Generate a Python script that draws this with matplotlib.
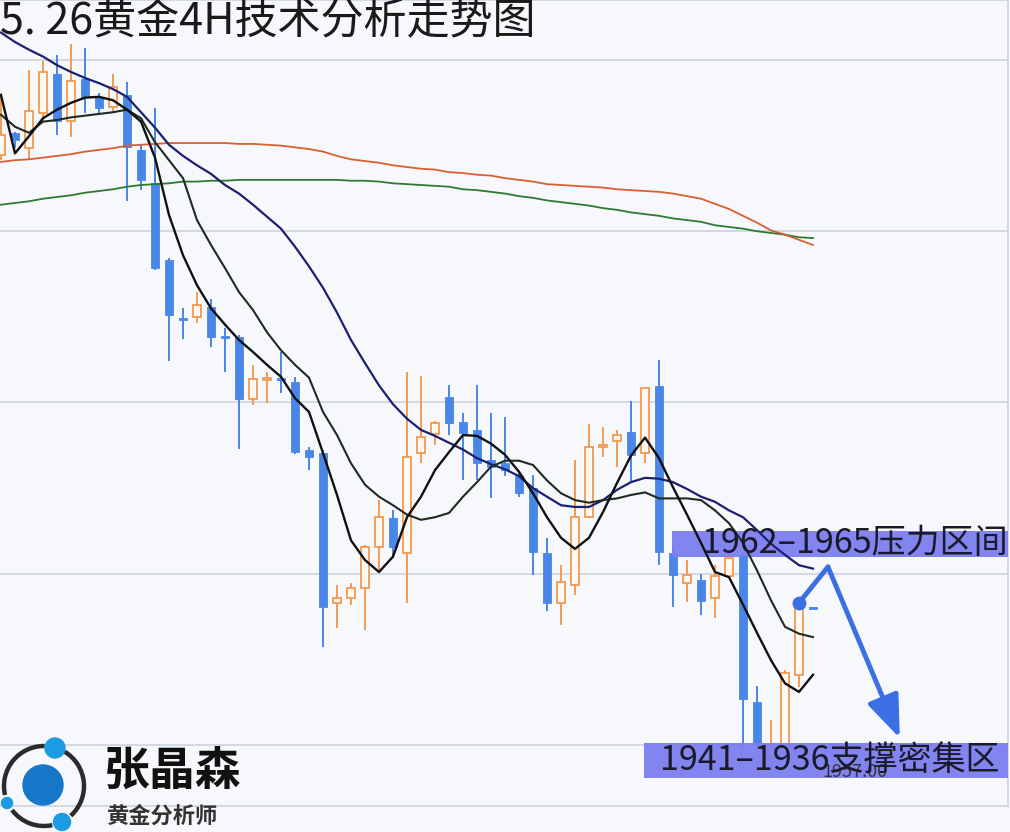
import matplotlib
matplotlib.use('Agg')
import matplotlib.pyplot as plt
from matplotlib.patches import Rectangle, Circle, Arc
import numpy as np

plt.rcParams['font.family'] = ['Noto Sans CJK SC', 'DejaVu Sans']

# ---------------- data ----------------
title = "5. 26黄金4H技术分析走势图"

opens = [2008.9, 2011.5, 2009.7, 2013.8, 2018.4, 2012.9, 2017.8, 2015.7, 2014.5, 2015.9,
         2009.5, 2005.6, 1996.6, 1989.9, 1990.0, 1991.2, 1987.8, 1987.6, 1980.4, 1982.6,
         1982.9, 1982.4, 1974.5, 1974.1, 1956.6, 1957.2, 1958.3, 1963.1, 1966.5, 1962.4,
         1974.1, 1976.3, 1980.6, 1977.7, 1976.8, 1973.3, 1972.9, 1971.4, 1970.0, 1962.4,
         1956.6, 1958.7, 1966.6, 1974.8, 1975.5, 1976.6, 1974.1, 1981.9, 1962.4, 1958.9,
         1959.3, 1957.2, 1959.7, 1962.2, 1945.0, 1938.6, 1939.2, 1948.2, 1956.1]
closes = [2011.2, 2010.7, 2014.0, 2018.6, 2012.9, 2017.5, 2015.7, 2014.4, 2016.8, 2009.8,
          2006.0, 1995.7, 1990.2, 1989.6, 1991.4, 1987.6, 1987.5, 1980.4, 1982.7, 1982.9,
          1982.6, 1974.2, 1973.6, 1956.1, 1957.2, 1958.3, 1963.1, 1966.6, 1963.1, 1973.6,
          1976.0, 1977.6, 1977.6, 1976.4, 1972.9, 1972.5, 1972.1, 1969.4, 1962.5, 1956.6,
          1959.0, 1966.6, 1974.8, 1975.0, 1976.2, 1973.9, 1981.7, 1962.5, 1959.9, 1959.9,
          1956.8, 1959.7, 1961.8, 1945.4, 1940.2, 1940.0, 1948.4, 1956.6, 1955.9]
highs = [2016.1, 2011.6, 2018.8, 2019.9, 2020.6, 2021.9, 2021.4, 2016.1, 2018.4, 2017.4,
         2010.1, 2014.4, 1996.9, 1991.0, 1992.9, 1992.1, 1988.7, 1987.9, 1984.4, 1983.6,
         1985.9, 1983.0, 1974.8, 1974.5, 1958.7, 1958.9, 1963.4, 1968.6, 1967.4, 1983.6,
         1983.1, 1977.8, 1982.0, 1978.8, 1982.0, 1978.8, 1978.3, 1971.9, 1971.5, 1964.2,
         1961.0, 1973.3, 1977.5, 1977.1, 1976.8, 1980.2, 1981.8, 1985.0, 1963.0, 1961.6,
         1960.0, 1961.0, 1962.8, 1962.4, 1946.9, 1942.9, 1948.8, 1957.2, 1956.1]
lows = [2008.3, 2009.7, 2008.4, 2012.6, 2011.2, 2011.0, 2013.8, 2013.7, 2013.9, 2003.5,
        2004.8, 1995.5, 1984.8, 1987.4, 1989.3, 1986.5, 1983.6, 1974.6, 1979.7, 1979.9,
        1981.1, 1974.0, 1972.1, 1951.4, 1953.7, 1956.4, 1953.4, 1960.4, 1961.8, 1956.6,
        1972.9, 1975.0, 1976.2, 1970.9, 1970.9, 1968.8, 1971.4, 1969.0, 1959.9, 1955.6,
        1954.0, 1957.5, 1966.5, 1973.6, 1972.5, 1970.6, 1972.9, 1961.0, 1956.1, 1956.7,
        1955.2, 1954.8, 1959.6, 1939.6, 1939.4, 1937.7, 1938.2, 1946.8, 1955.9]

ma_fast = [2015.9, 2009.1, 2011.1, 2013.2, 2014.2, 2015.0, 2015.6, 2015.7, 2015.3, 2014.2,
           2012.8, 2008.6, 2001.9, 1997.2, 1993.7, 1991.0, 1989.1, 1987.3, 1985.9, 1984.4,
           1983.0, 1980.5, 1978.9, 1974.1, 1969.2, 1963.9, 1961.6, 1960.2, 1962.0, 1966.6,
           1969.0, 1972.1, 1974.2, 1976.2, 1976.1, 1975.2, 1973.9, 1971.9, 1969.4, 1966.6,
           1964.2, 1962.9, 1964.2, 1967.2, 1970.6, 1973.8, 1975.9, 1973.5, 1970.1, 1966.9,
           1963.6, 1960.2, 1959.6, 1956.4, 1953.1, 1949.9, 1947.2, 1946.2, 1948.2]
ma_mid = [2013.6, 2012.2, 2011.5, 2012.8, 2013.0, 2013.3, 2013.5, 2013.7, 2013.9, 2014.2,
          2013.2, 2010.4, 2008.3, 2006.2, 2001.3, 1998.4, 1995.7, 1992.9, 1990.8, 1988.2,
          1986.1, 1984.4, 1982.9, 1978.9, 1976.2, 1972.9, 1970.4, 1969.0, 1968.0, 1966.9,
          1966.3, 1966.6, 1967.1, 1969.0, 1970.7, 1972.5, 1973.2, 1973.2, 1972.7, 1970.9,
          1969.4, 1968.6, 1968.3, 1968.6, 1968.8, 1969.2, 1969.5, 1968.8, 1968.8, 1968.8,
          1968.6, 1967.4, 1965.9, 1963.6, 1960.4, 1956.9, 1953.8, 1953.0, 1952.6]
ma_slow = [2023.2, 2022.1, 2021.2, 2020.4, 2019.4, 2018.6, 2017.9, 2017.3, 2016.6, 2015.7,
           2013.9, 2012.1, 2010.1, 2008.8, 2007.7, 2006.7, 2005.4, 2004.4, 2003.1, 2001.7,
           2000.3, 1998.2, 1995.9, 1993.4, 1990.5, 1987.3, 1984.6, 1982.0, 1979.8, 1978.1,
           1976.8, 1976.1, 1975.3, 1974.5, 1973.5, 1972.8, 1972.2, 1971.4, 1970.0, 1969.0,
           1968.0, 1967.8, 1967.8, 1968.6, 1969.8, 1970.7, 1971.2, 1971.1, 1970.7, 1969.9,
           1969.0, 1968.4, 1967.4, 1966.6, 1965.1, 1963.5, 1962.2, 1961.0, 1960.6]
ma_long = [2008.1, 2008.3, 2008.4, 2008.6, 2008.8, 2009.0, 2009.3, 2009.5, 2009.7, 2010.0,
           2010.1, 2010.2, 2010.3, 2010.3, 2010.3, 2010.3, 2010.3, 2010.2, 2010.2, 2010.1,
           2010.0, 2009.8, 2009.6, 2009.3, 2008.8, 2008.4, 2008.2, 2008.0, 2007.7, 2007.5,
           2007.3, 2007.2, 2006.9, 2006.8, 2006.6, 2006.5, 2006.2, 2006.0, 2005.8, 2005.5,
           2005.4, 2005.3, 2005.2, 2005.1, 2004.9, 2004.8, 2004.7, 2004.6, 2004.4, 2004.1,
           2003.8, 2003.2, 2002.6, 2001.8, 2001.0, 2000.1, 1999.6, 1999.0, 1998.4]
ma_longer = [2003.1, 2003.3, 2003.5, 2003.8, 2004.0, 2004.2, 2004.5, 2004.7, 2004.9, 2005.2,
             2005.4, 2005.5, 2005.6, 2005.8, 2005.8, 2005.9, 2005.9, 2006.0, 2006.0, 2006.0,
             2006.0, 2006.0, 2006.0, 2006.0, 2006.0, 2005.9, 2005.9, 2005.8, 2005.6, 2005.5,
             2005.4, 2005.3, 2005.2, 2004.9, 2004.8, 2004.6, 2004.4, 2004.1, 2003.9, 2003.6,
             2003.4, 2003.2, 2003.0, 2002.7, 2002.5, 2002.2, 2002.0, 2001.8, 2001.5, 2001.3,
             2001.1, 2000.7, 2000.5, 2000.3, 2000.0, 1999.8, 1999.6, 1999.3, 1999.2]

grid_levels = [1940, 1960, 1980, 2000, 2020]
pressure_zone = [1962.0, 1965.0]
support_zone = [1936.1, 1940.2]
pressure_label = "1962–1965压力区间"
support_label = "1941–1936支撑密集区"
price_tag = "1957.00"
arrow_x = [57.0, 59.07, 64.2]
arrow_y = [1956.6, 1960.8, 1940.8]
brand_name = "张晶森"
brand_title = "黄金分析师"

# ---------------- style ----------------
BG = '#f6f8fc'
GRID = '#cfd6e1'
BLUE = '#4a86e8'
ORANGE = '#f29a52'
BOX = '#7c7ef0'
ARROW = '#3b6fe3'

W, H = 1010, 832
fig = plt.figure(figsize=(W / 100, H / 100), dpi=100, facecolor=BG)
ax = fig.add_axes([0, 26 / H, 1008 / W, 806 / H])
ax.set_facecolor(BG)
ax.set_xlim(-1 / 14, 1007 / 14)
ax.set_ylim(1932.876, 2027.007)
ax.set_yticks(grid_levels)
ax.set_xticks([])
ax.tick_params(length=0, labelleft=False, labelbottom=False)
ax.grid(axis='y', color=GRID, lw=1.3)
ax.set_axisbelow(True)
for s in ['top', 'right', 'bottom']:
    ax.spines[s].set_color(GRID)
    ax.spines[s].set_linewidth(1.3)
ax.spines['left'].set_visible(False)

o = np.array(opens); c = np.array(closes)
hi = np.array(highs); lo = np.array(lows)
x = np.arange(len(o))
up = c >= o
dn = ~up
bottom = np.minimum(o, c)
height = np.maximum(np.abs(c - o), 0.22)

wick_colors = [ORANGE if u else BLUE for u in up]
ax.vlines(x, lo, hi, colors=wick_colors, lw=1.4, zorder=2)
ax.bar(x[dn], height[dn], bottom=bottom[dn], width=0.64, color=BLUE,
       edgecolor=BLUE, lw=0.6, zorder=3)
ax.bar(x[up], height[up], bottom=bottom[up], width=0.58, facecolor='#fdf8f2',
       edgecolor=ORANGE, lw=1.3, zorder=3)

# zone boxes
ax.add_patch(Rectangle((47.93, pressure_zone[0]), 30, pressure_zone[1] - pressure_zone[0],
                       facecolor=BOX, edgecolor='none', alpha=0.95, zorder=3.5))
ax.add_patch(Rectangle((45.93, support_zone[0]), 30, support_zone[1] - support_zone[0],
                       facecolor=BOX, edgecolor='none', alpha=0.95, zorder=3.5))

# moving averages
ax.plot(x, ma_longer, color='#2f7a33', lw=1.3, zorder=4)
ax.plot(x, ma_long, color='#d9602e', lw=1.3, zorder=4)
ax.plot(x, ma_slow, color='#1b2070', lw=1.6, zorder=4)
ax.plot(x, ma_mid, color='#1f2a20', lw=1.5, zorder=4)
ax.plot(x, ma_fast, color='#101010', lw=1.7, zorder=4)

# texts in boxes
ax.text(50.07, np.mean(pressure_zone), pressure_label, fontsize=24.5, color='#1a1a2a',
        va='center', ha='left', zorder=7)
ax.text(61.0, 1936.9, price_tag, fontsize=13, color='#333333', va='center', ha='center',
        zorder=6)
ax.text(47.07, np.mean(support_zone), support_label, fontsize=24.5, color='#1a1a2a',
        va='center', ha='left', zorder=7)

# projection arrow
ax.plot(arrow_x[:2], arrow_y[:2], color=ARROW, lw=3.5, solid_capstyle='round', zorder=8)
ax.plot(arrow_x[0], arrow_y[0], 'o', ms=9, color=ARROW, zorder=8)
ax.annotate('', xy=(arrow_x[2], arrow_y[2]), xytext=(arrow_x[1], arrow_y[1]),
            arrowprops=dict(arrowstyle='-|>,head_length=1.3,head_width=0.5',
                            color=ARROW, lw=3.5, shrinkA=0, shrinkB=0, mutation_scale=20),
            zorder=8)

# ---------------- overlay: title and logo ----------------
ov = fig.add_axes([0, 0, 1, 1])
ov.set_xlim(0, W)
ov.set_ylim(0, H)
ov.axis('off')
ov.patch.set_alpha(0)

ov.text(0, H - 22, title, fontsize=31, color='#1a1a1a', va='center', ha='left')

cx, cy, r = 44, 46, 40
for t1, t2 in [(89, 193), (217, 282), (312, 59)]:
    ov.add_patch(Arc((cx, cy), 2 * r, 2 * r, theta1=t1, theta2=t2, lw=3.2, color='#2b2b2b'))
ov.add_patch(Circle((43, 47), 20, color='#1677c8'))
ov.add_patch(Circle((55, 84), 10, color='#1b9be3'))
ov.add_patch(Circle((7, 29), 5.5, color='#1b9be3'))
ov.add_patch(Circle((62, 10), 8.5, color='#1b9be3'))

ov.text(104, 60, brand_name, fontsize=33, fontweight='bold', color='#111111',
        va='center', ha='left')
ov.text(107, 16, brand_title, fontsize=16, fontweight='bold', color='#333333',
        va='center', ha='left')

fig.savefig('out.png', dpi=100, facecolor=BG)
